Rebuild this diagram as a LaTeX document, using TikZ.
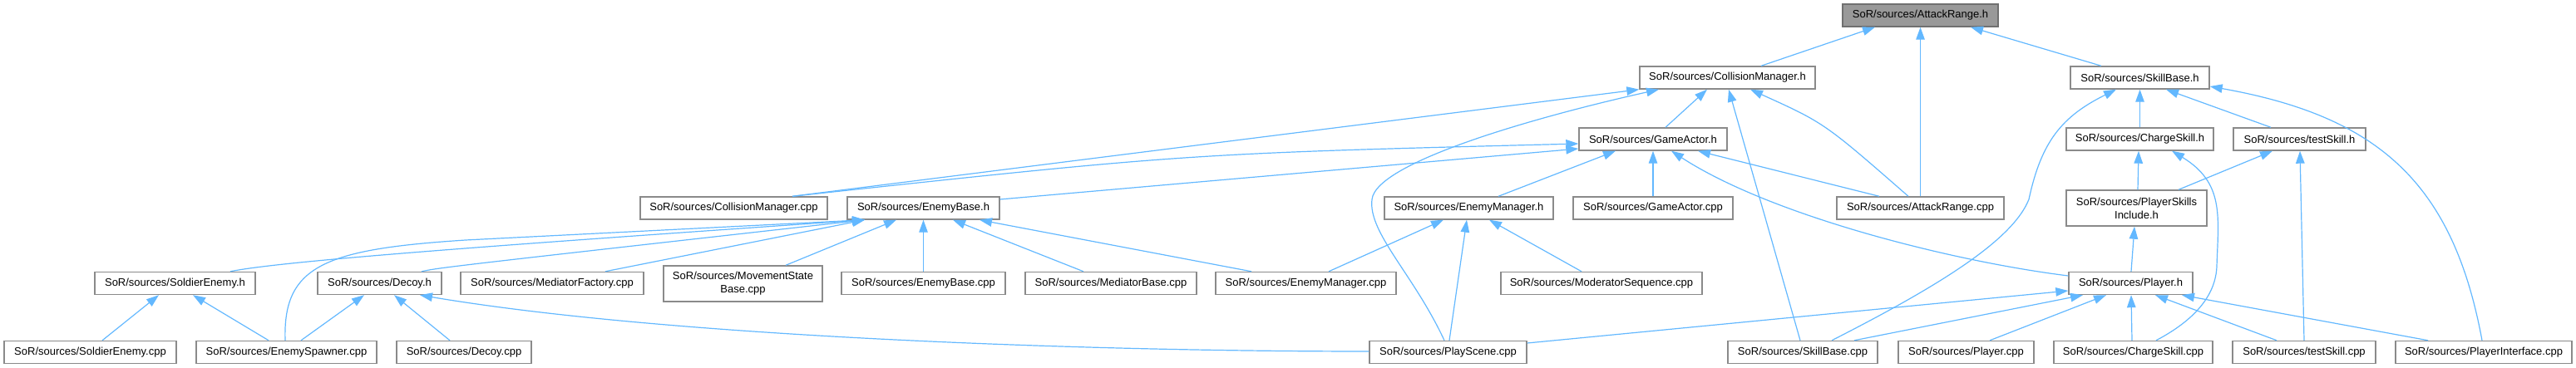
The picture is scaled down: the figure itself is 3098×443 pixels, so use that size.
\documentclass[tikz,border=0pt]{standalone}
\usepackage{fontspec}
\setmainfont{Liberation Sans}
\usetikzlibrary{arrows.meta}
\definecolor{edgeblue}{HTML}{63B8FF}
\definecolor{nodeborder}{HTML}{8A8A8A}
\definecolor{rootfill}{HTML}{999999}
\definecolor{rootborder}{HTML}{707070}
\begin{document}
\begin{tikzpicture}[x=1pt,y=-1pt,
  fnode/.style={draw=nodeborder, line width=1.4pt, fill=white, minimum height=27pt,
    inner sep=0pt, font=\fontsize{13}{16}\selectfont, align=center},
  rootnode/.style={fnode, fill=rootfill, draw=rootborder},
  tall/.style={minimum height=43pt},
  dep/.style={draw=edgeblue, line width=1.2pt, -{Triangle[length=15pt,width=10.5pt]}}]
\useasboundingbox (0,0) rectangle (3098,443);
% row 0
\node[rootnode, minimum width=187pt] (arh) at (2309.5,18.5) {SoR/sources/AttackRange.h};
% row 1
\node[fnode, minimum width=211pt] (cmh) at (2077.5,93.5) {SoR/sources/CollisionManager.h};
\node[fnode, minimum width=167pt] (sbh) at (2573.5,93.5) {SoR/sources/SkillBase.h};
% row 2
\node[fnode, minimum width=178pt] (gah) at (1988,167.5) {SoR/sources/GameActor.h};
\node[fnode, minimum width=177pt] (csh) at (2573.5,167.5) {SoR/sources/ChargeSkill.h};
\node[fnode, minimum width=159pt] (tsh) at (2765.5,167.5) {SoR/sources/testSkill.h};
% row 3
\node[fnode, minimum width=225pt] (cmcpp) at (882.5,250.5) {SoR/sources/CollisionManager.cpp};
\node[fnode, minimum width=183pt] (ebh) at (1110.5,250.5) {SoR/sources/EnemyBase.h};
\node[fnode, minimum width=203pt] (emh) at (1766.5,250.5) {SoR/sources/EnemyManager.h};
\node[fnode, minimum width=192pt] (gacpp) at (1988,250.5) {SoR/sources/GameActor.cpp};
\node[fnode, minimum width=201pt] (arcpp) at (2309.5,250.5) {SoR/sources/AttackRange.cpp};
\node[fnode, tall, minimum width=169pt] (psih) at (2569.5,250.5) {SoR/sources/PlayerSkills\\Include.h};
% row 4
\node[fnode, minimum width=193pt] (seh) at (210.5,341) {SoR/sources/SoldierEnemy.h};
\node[fnode, minimum width=149pt] (deh) at (456.5,341) {SoR/sources/Decoy.h};
\node[fnode, minimum width=220pt] (mfcpp) at (664,341) {SoR/sources/MediatorFactory.cpp};
\node[fnode, tall, minimum width=191pt] (msbcpp) at (893.5,341.5) {SoR/sources/MovementState\\Base.cpp};
\node[fnode, minimum width=197pt] (ebcpp) at (1110.5,341) {SoR/sources/EnemyBase.cpp};
\node[fnode, minimum width=206pt] (mbcpp) at (1336,341) {SoR/sources/MediatorBase.cpp};
\node[fnode, minimum width=217pt] (emcpp) at (1570.5,341) {SoR/sources/EnemyManager.cpp};
\node[fnode, minimum width=242pt] (mscpp) at (1926,341) {SoR/sources/ModeratorSequence.cpp};
\node[fnode, minimum width=149pt] (plh) at (2562.5,341) {SoR/sources/Player.h};
% row 5
\node[fnode, minimum width=207pt] (secpp) at (108.5,424) {SoR/sources/SoldierEnemy.cpp};
\node[fnode, minimum width=217pt] (escpp) at (344.5,424) {SoR/sources/EnemySpawner.cpp};
\node[fnode, minimum width=162pt] (decpp) at (558,424) {SoR/sources/Decoy.cpp};
\node[fnode, minimum width=189pt] (pscpp) at (1741.5,424) {SoR/sources/PlayScene.cpp};
\node[fnode, minimum width=180pt] (sbcpp) at (2168,424) {SoR/sources/SkillBase.cpp};
\node[fnode, minimum width=163pt] (plcpp) at (2364.5,424) {SoR/sources/Player.cpp};
\node[fnode, minimum width=191pt] (cscpp) at (2565.5,424) {SoR/sources/ChargeSkill.cpp};
\node[fnode, minimum width=172pt] (tscpp) at (2771,424) {SoR/sources/testSkill.cpp};
\node[fnode, minimum width=212pt] (picpp) at (2987,424) {SoR/sources/PlayerInterface.cpp};

% --- edges to AttackRange.h
\draw[dep] (cmh.north -| 2118,0) -- (arh.south -| 2255,0);
\draw[dep] (arcpp.north) -- (arh.south);
\draw[dep] (sbh.north -| 2527,0) -- (arh.south -| 2370,0);
% --- edges to CollisionManager.h
\draw[dep] (cmcpp.north -| 953,0) -- (cmh.south west);
\draw[dep] (gah.north -| 2003,0) -- (cmh.south -| 2053,0);
\draw[dep] (pscpp.north -| 1737,0) .. controls (1700,330) and (1645,280) .. (1650,240)
   .. controls (1655,195) and (1850,140) .. (cmh.south -| 1995,0);
\draw[dep] (sbcpp.north -| 2165,0) -- (cmh.south -| 2079,0);
\draw[dep] (arcpp.north -| 2295,0) .. controls (2194,148) .. (cmh.south -| 2105,0);
% --- edges to GameActor.h
\draw[dep] (cmcpp.north -| 953,0) .. controls (1427,185) .. (gah.west |- 0,173);
\draw[dep] (ebh.east |- 0,240) -- (gah.west |- 0,179);
\draw[dep] (emh.north -| 1802,0) -- (gah.south -| 1943,0);
\draw[dep] (gacpp.north) -- (gah.south);
\draw[dep] (plh.west |- 0,332) .. controls (2350,315) and (2130,260) .. (gah.south -| 2010,0);
\draw[dep] (arcpp.north -| 2260,0) -- (gah.south -| 2042,0);
% --- edges to EnemyBase.h
\draw[dep] (seh.north -| 277,0) .. controls (340,314) and (600,295) .. (ebh.south -| 1040,0);
\draw[dep] (escpp.north -| 343,0) .. controls (340,320) and (390,300) .. (560,289) -- (ebh.south -| 1040,0);
\draw[dep] (deh.north -| 507,0) .. controls (530,322) .. (ebh.south -| 1040,0);
\draw[dep] (mfcpp.north -| 728,0) -- (ebh.south -| 1040,0);
\draw[dep] (msbcpp.north -| 945,0) -- (ebh.south -| 1078,0);
\draw[dep] (ebcpp.north) -- (ebh.south);
\draw[dep] (mbcpp.north -| 1303,0) -- (ebh.south -| 1146,0);
\draw[dep] (emcpp.north -| 1505,0) -- (ebh.south -| 1178,0);
% --- edges to Decoy.h
\draw[dep] (escpp.north -| 362,0) -- (deh.south -| 438,0);
\draw[dep] (decpp.north -| 541,0) -- (deh.south -| 474,0);
\draw[dep] (pscpp.west |- 0,423) .. controls (1300,423) and (800,405) .. (deh.south -| 505,0);
% --- edges to SoldierEnemy.h
\draw[dep] (secpp.north -| 123,0) -- (seh.south -| 191,0);
\draw[dep] (escpp.north -| 323,0) -- (seh.south -| 232,0);
% --- edges to EnemyManager.h
\draw[dep] (emcpp.north -| 1598,0) -- (emh.south -| 1736,0);
\draw[dep] (pscpp.north -| 1743,0) -- (emh.south -| 1764,0);
\draw[dep] (mscpp.north -| 1902,0) -- (emh.south -| 1791,0);
% --- edges to Player.h
\draw[dep] (pscpp.east |- 0,413) -- (plh.west |- 0,350);
\draw[dep] (sbcpp.north -| 2230,0) -- (plh.south -| 2505,0);
\draw[dep] (plcpp.north -| 2393,0) -- (plh.south -| 2533,0);
\draw[dep] (cscpp.north -| 2564,0) -- (plh.south -| 2563,0);
\draw[dep] (tscpp.north -| 2738,0) -- (plh.south -| 2592,0);
\draw[dep] (picpp.north -| 2920,0) -- (plh.south -| 2624,0);
% --- edges to SkillBase.h
\draw[dep] (sbcpp.north -| 2203,0) .. controls (2330,345) and (2420,290) .. (2440,240)
   .. controls (2455,170) and (2480,140) .. (sbh.south -| 2545,0);
\draw[dep] (csh.north) -- (sbh.south);
\draw[dep] (tsh.north -| 2731,0) -- (sbh.south -| 2605,0);
\draw[dep] (picpp.north -| 2985,0) .. controls (2950,220) and (2860,140) .. (sbh.east |- 0,104);
% --- edges to ChargeSkill.h
\draw[dep] (psih.north -| 2571,0) -- (csh.south -| 2572,0);
\draw[dep] (cscpp.north -| 2593,0) .. controls (2640,385) and (2665,355) .. (2666,320)
   .. controls (2668,260) and (2675,220) .. (csh.south -| 2612,0);
% --- edges to testSkill.h
\draw[dep] (psih.north -| 2620,0) -- (tsh.south -| 2733,0);
\draw[dep] (tscpp.north -| 2771,0) -- (tsh.south -| 2766,0);
% --- edge to PlayerSkillsInclude.h
\draw[dep] (plh.north -| 2563,0) -- (psih.south -| 2567,0);
\end{tikzpicture}
\end{document}
